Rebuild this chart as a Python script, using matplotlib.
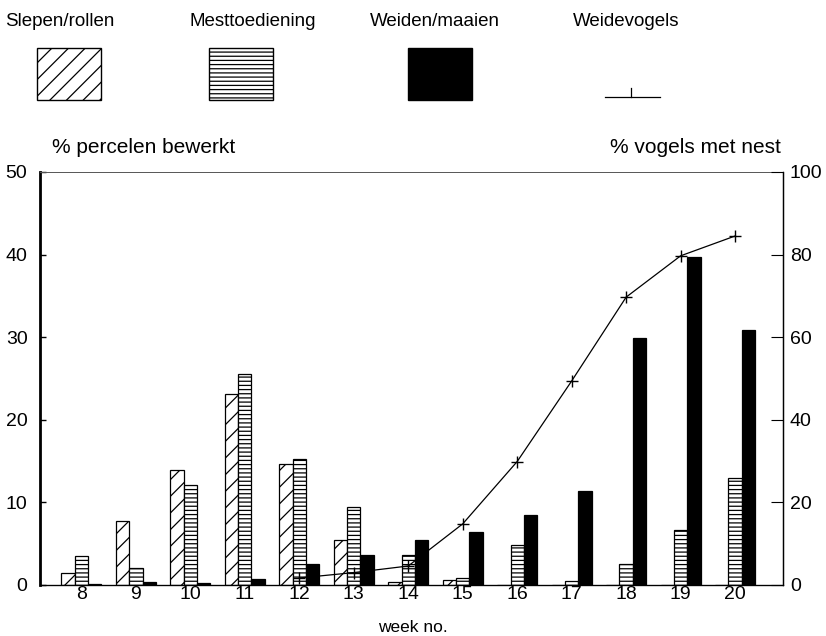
import matplotlib
matplotlib.use("Agg")
import matplotlib.pyplot as plt
from matplotlib.patches import Rectangle
from matplotlib.lines import Line2D
import numpy as np

plt.rcParams["font.family"] = ["Liberation Sans", "DejaVu Sans"]
plt.rcParams["hatch.linewidth"] = 0.9

weeks = [8, 9, 10, 11, 12, 13, 14, 15, 16, 17, 18, 19, 20]
slepen = [1.5, 7.7, 13.9, 23.1, 14.6, 5.4, 0.4, 0.6, 0.0, 0.0, 0.0, 0.0, 0.0]
mest = [3.5, 2.1, 12.1, 25.6, 15.3, 9.4, 3.6, 0.9, 4.8, 0.5, 2.5, 6.7, 12.9]
weiden = [0.1, 0.4, 0.3, 0.7, 2.5, 3.6, 5.5, 6.4, 8.5, 11.4, 29.9, 39.7, 30.9]

vogel_weeks = [12, 13, 14, 15, 16, 17, 18, 19, 20]
vogels = [1.7, 3.0, 4.6, 14.8, 29.9, 49.4, 69.7, 79.7, 84.5]

fig = plt.figure(figsize=(8.26, 6.36), dpi=100)
ax = fig.add_axes([0.0484, 0.0802, 0.8996, 0.6494])
ax2 = ax.twinx()

x = np.array(weeks)
w = 0.245
ax.bar(x - w, slepen, w, facecolor="white", edgecolor="black", hatch="//", linewidth=0.9)
ax.bar(x, mest, w, facecolor="white", edgecolor="black", hatch="----", linewidth=0.9)
ax.bar(x + w, weiden, w, facecolor="black", edgecolor="black", linewidth=0.9)

ax2.plot(vogel_weeks, vogels, color="black", linewidth=0.9, marker="+",
         markersize=9, markeredgewidth=1.0)

ax.set_xlim(7.24, 20.88)
ax.set_ylim(0, 50)
ax2.set_ylim(0, 100)

ax.set_xticks(weeks)
ax.set_xticklabels([str(wk) for wk in weeks], fontsize=14)
ax.tick_params(axis="x", length=0, pad=1)
ax.set_yticks([0, 10, 20, 30, 40, 50])
ax.tick_params(axis="y", direction="in", length=4, width=1, labelsize=14, pad=9)
ax2.set_yticks([0, 20, 40, 60, 80, 100])
ax2.tick_params(axis="y", direction="in", length=9, width=0.8, labelsize=14, pad=5)

ax.spines["left"].set_linewidth(2.0)
ax.spines["top"].set_linewidth(0.7)
ax.spines["top"].set_color("#555555")
ax.spines["bottom"].set_linewidth(0.9)
ax.spines["right"].set_linewidth(0.9)
ax2.spines["left"].set_visible(False)
ax2.spines["right"].set_linewidth(0.9)
ax2.spines["top"].set_visible(False)

fig.text(0.063, 0.768, "% percelen bewerkt", fontsize=15, ha="left", va="center")
fig.text(0.945, 0.768, "% vogels met nest", fontsize=15, ha="right", va="center")
fig.text(0.5, 0.014, "week no.", fontsize=12.5, ha="center", va="center")

# legend along the top
legend_items = [
    ("Slepen/rollen", 0.006, dict(facecolor="white", hatch="//")),
    ("Mesttoediening", 0.230, dict(facecolor="white", hatch="----")),
    ("Weiden/maaien", 0.448, dict(facecolor="black")),
]
for label, tx, style in legend_items:
    fig.text(tx, 0.966, label, fontsize=13.5, ha="left", va="center")
box_x = [0.045, 0.253, 0.494]
for (label, tx, style), bx in zip(legend_items, box_x):
    fig.patches.append(Rectangle((bx, 0.843), 0.077, 0.082, transform=fig.transFigure,
                                 edgecolor="black", linewidth=1.0, **style))
fig.text(0.694, 0.966, "Weidevogels", fontsize=13.5, ha="left", va="center")
fig.lines.append(Line2D([0.733, 0.799], [0.848, 0.848], transform=fig.transFigure,
                        color="black", linewidth=0.9))
fig.lines.append(Line2D([0.764, 0.764], [0.848, 0.862], transform=fig.transFigure,
                        color="black", linewidth=0.9))

fig.savefig("out.png", dpi=100)
